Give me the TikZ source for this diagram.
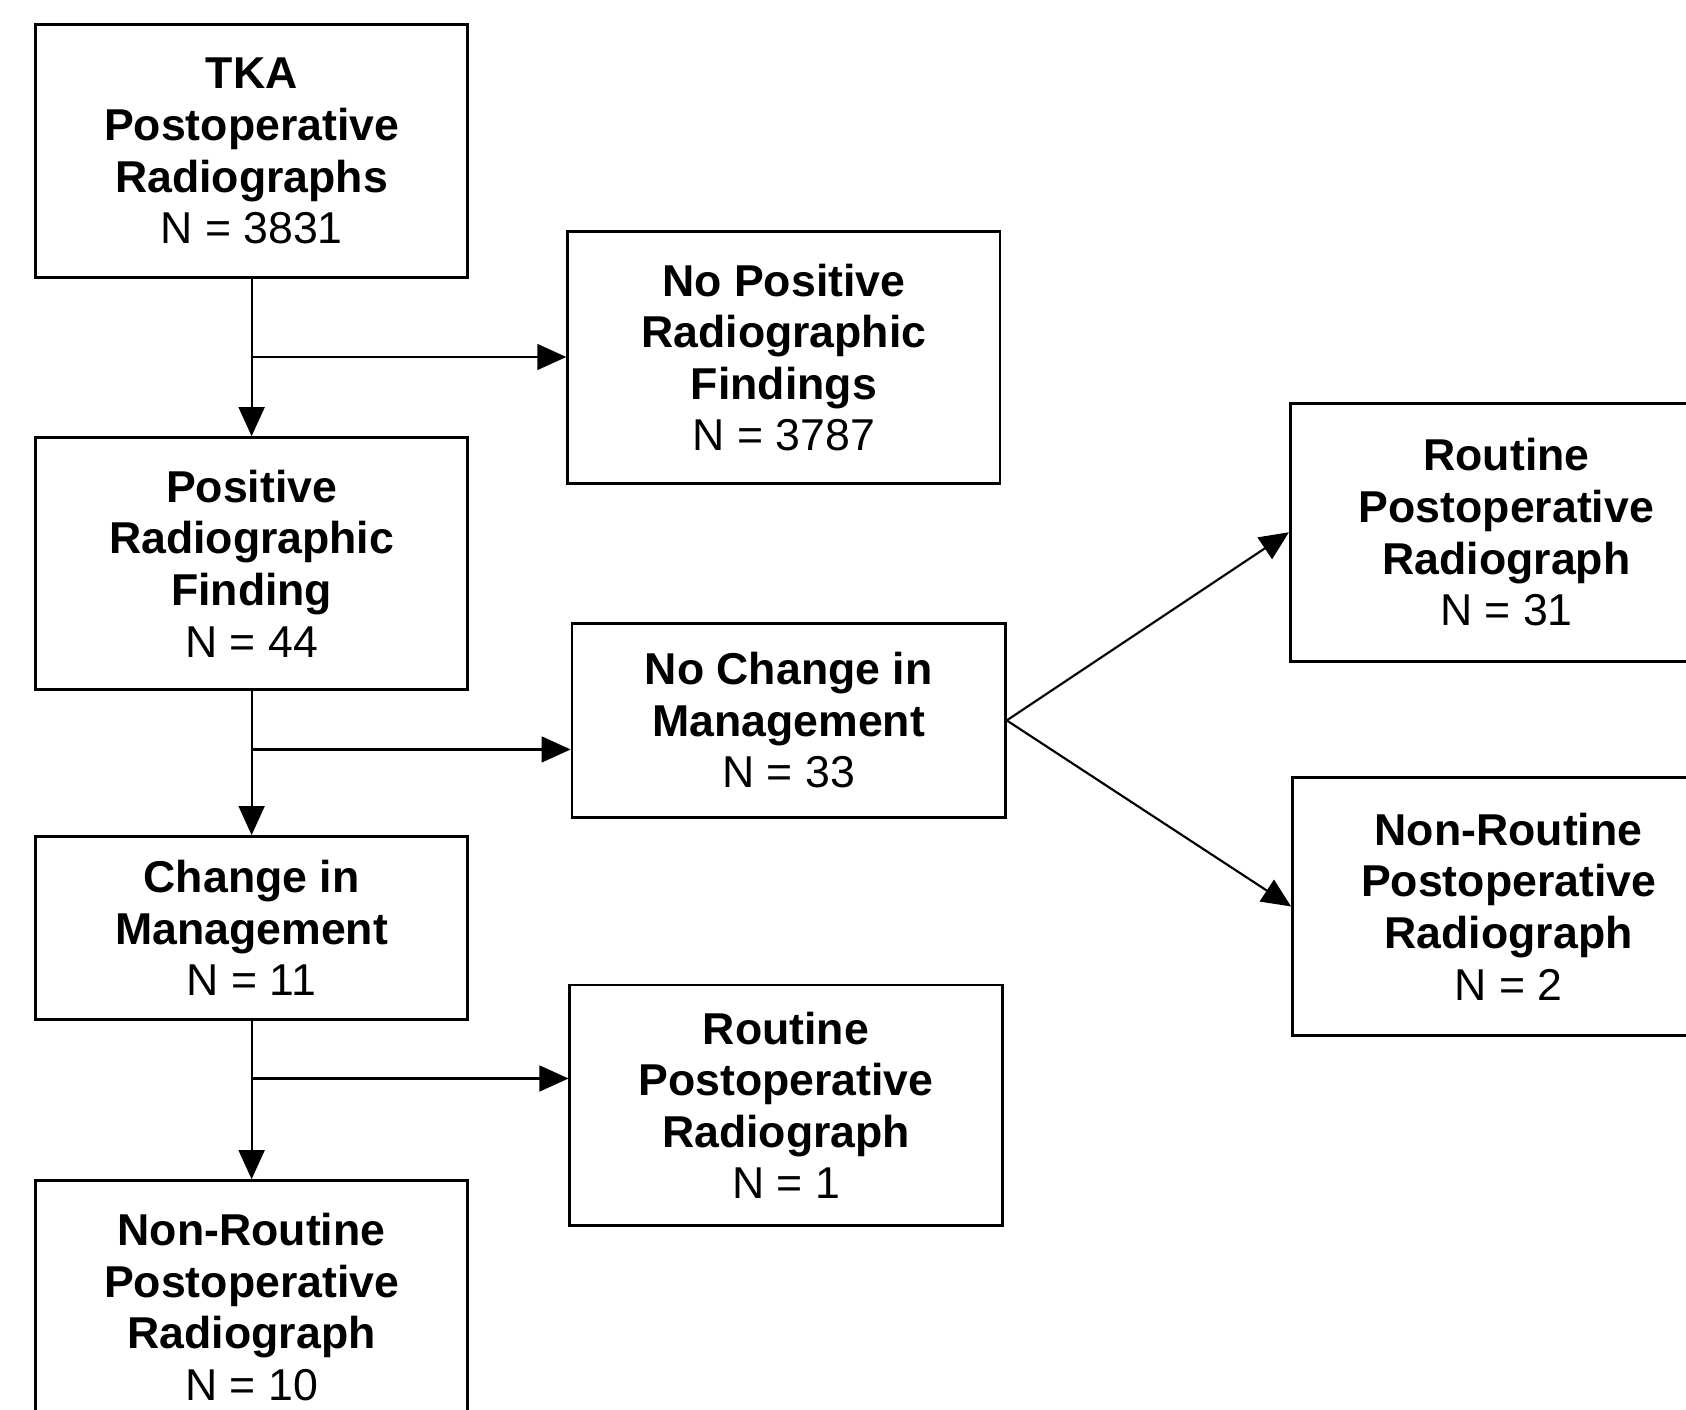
\documentclass[tikz,border=0pt]{standalone}
\usepackage{fontspec}
\setmainfont{Liberation Sans}
\usetikzlibrary{arrows.meta}
\begin{document}
\begin{tikzpicture}[x=1pt,y=-1pt,
  box/.style={draw, line width=2.6pt, minimum width=402pt, inner sep=0pt, align=center,
    font=\fontsize{41.5}{48}\selectfont},
  arr/.style={line width=2pt, -{Triangle[length=27pt,width=24pt]}},
  conn/.style={line width=2pt}]
\useasboundingbox (0,0) rectangle (1568,1311);
\clip (0,0) rectangle (1568,1311);
\fill[white] (0,0) rectangle (1568,1311);

\node[box, minimum height=235pt] (tka) at (234,140.5)
  {\textbf{TKA}\\\textbf{Postoperative}\\\textbf{Radiographs}\\N = 3831};
\node[box, minimum height=235pt] (nopos) at (729,332.5)
  {\textbf{No Positive}\\\textbf{Radiographic}\\\textbf{Findings}\\N = 3787};
\node[box, minimum height=234pt] (pos) at (234,524)
  {\textbf{Positive}\\\textbf{Radiographic}\\\textbf{Finding}\\N = 44};
\node[box, minimum width=403pt, minimum height=180pt] (nochg) at (733.5,670)
  {\textbf{No Change in}\\\textbf{Management}\\N = 33};
\node[box, minimum height=170pt] (chg) at (234,863)
  {\textbf{Change in}\\\textbf{Management}\\N = 11};
\node[box, minimum height=224pt] (rout1) at (731,1028)
  {\textbf{Routine}\\\textbf{Postoperative}\\\textbf{Radiograph}\\N = 1};
\node[box, minimum height=235pt] (nonr1) at (234,1215.5)
  {\textbf{Non-Routine}\\\textbf{Postoperative}\\\textbf{Radiograph}\\N = 10};
\node[box, minimum height=240pt] (routR) at (1401,495)
  {\textbf{Routine}\\\textbf{Postoperative}\\\textbf{Radiograph}\\N = 31};
\node[box, minimum height=240pt] (nonrR) at (1403,843)
  {\textbf{Non-Routine}\\\textbf{Postoperative}\\\textbf{Radiograph}\\N = 2};

\coordinate (b1) at (234,332);
\coordinate (b2) at (234,697);
\coordinate (b3) at (234,1003);

\draw[arr] (tka.south) -- (pos.north);
\draw[arr] (b1) -- (nopos.west |- b1);
\draw[arr] (pos.south) -- (chg.north);
\draw[arr] (b2) -- (nochg.west |- b2);
\draw[arr] (chg.south) -- (nonr1.north);
\draw[arr] (b3) -- (rout1.west |- b3);
\draw[arr] (nochg.east) -- (routR.west);
\draw[arr] (nochg.east) -- (nonrR.west);
\end{tikzpicture}
\end{document}
